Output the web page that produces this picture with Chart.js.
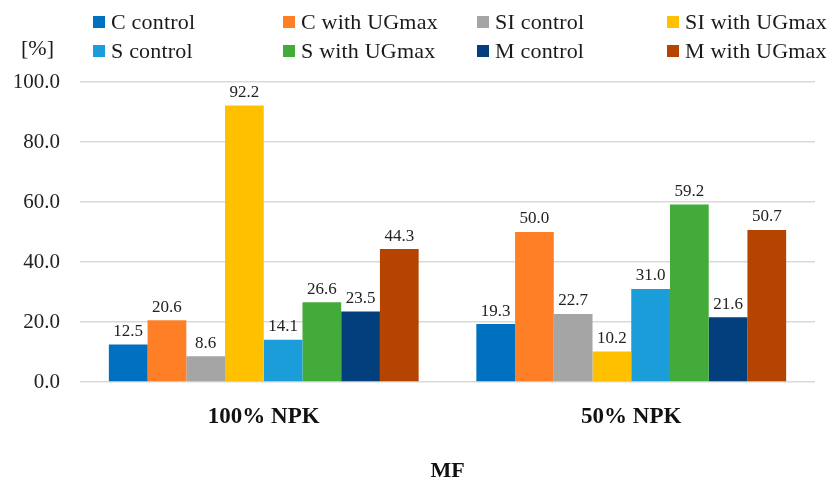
<!DOCTYPE html>
<html>
<head>
<meta charset="utf-8">
<script src="https://cdn.jsdelivr.net/npm/chart.js@4"></script>
<style>
  html, body { margin: 0; padding: 0; background: #fff; }
  #wrap { position: relative; width: 830px; height: 483px; }
  #chart { position: absolute; left: 0; top: 0; }
  .unit { position: absolute; left: 21px; top: 35px; font: 22px "Liberation Serif", serif; color: #1a1a1a; }
  .legend { position: absolute; left: 93px; top: 9px; width: 740px; display: grid;
            grid-template-columns: 190px 194px 190px 160px; row-gap: 3px; }
  .item { display: flex; align-items: center; font: 22px "Liberation Serif", serif; color: #1a1a1a;
          white-space: nowrap; height: 26px; letter-spacing: 0.2px; }
  .box { width: 12px; height: 12px; margin-right: 6px; flex: none; }
</style>
</head>
<body>
<div id="wrap">
  <canvas id="chart" width="830" height="483"></canvas>
  <div class="unit">[%]</div>
  <div class="legend" id="legend"></div>
</div>
<script>
// Fertilisation levels on the x axis
const categories = ['100% NPK', '50% NPK'];

// Series, in legend order
const seriesNames = [
  'C control', 'C with UGmax', 'SI control', 'SI with UGmax',
  'S control', 'S with UGmax', 'M control', 'M with UGmax'
];
const cControl   = [12.5, 19.3];
const cUGmax     = [20.6, 50.0];
const siControl  = [8.6, 22.7];
const siUGmax    = [92.2, 10.2];
const sControl   = [14.1, 31.0];
const sUGmax     = [26.6, 59.2];
const mControl   = [23.5, 21.6];
const mUGmax     = [44.3, 50.7];
const seriesValues = [cControl, cUGmax, siControl, siUGmax, sControl, sUGmax, mControl, mUGmax];
const seriesColors = ['#0070C0', '#FF7F27', '#A5A5A5', '#FFC000', '#1A9DD9', '#43AB3A', '#023F7C', '#B54400'];

// Y axis ticks
const yTicks = [0, 20, 40, 60, 80, 100];

const serif = '"Liberation Serif", "Times New Roman", serif';

// Value labels above each bar
const valueLabels = {
  id: 'valueLabels',
  afterDatasetsDraw(chart) {
    const ctx = chart.ctx;
    ctx.save();
    ctx.font = '17px ' + serif;
    ctx.fillStyle = '#222';
    ctx.textAlign = 'center';
    ctx.textBaseline = 'middle';
    chart.data.datasets.forEach((ds, i) => {
      chart.getDatasetMeta(i).data.forEach((bar, j) => {
        ctx.fillText(ds.data[j].toFixed(1), bar.x, bar.y - 13);
      });
    });
    ctx.restore();
  }
};

const chart = new Chart(document.getElementById('chart'), {
  type: 'bar',
  data: {
    labels: categories,
    datasets: seriesNames.map((name, i) => ({
      label: name,
      data: seriesValues[i],
      backgroundColor: seriesColors[i],
      borderWidth: 0,
      categoryPercentage: 0.843,
      barPercentage: 1.0
    }))
  },
  options: {
    responsive: false,
    animation: false,
    layout: { padding: { left: 0, right: 15, top: 82, bottom: 0 } },
    plugins: { legend: { display: false }, tooltip: { enabled: false } },
    scales: {
      x: {
        grid: { display: false },
        border: { display: false },
        ticks: { color: '#111', font: { family: serif, size: 23, weight: 'bold' }, padding: 13 },
        title: { display: true, text: 'MF', color: '#111',
                 font: { family: serif, size: 22, weight: 'bold', lineHeight: 1 },
                 padding: { top: 0, bottom: 1 } },
        afterFit(scale) { scale.height = 101; }
      },
      y: {
        min: 0, max: 100,
        afterBuildTicks(scale) { scale.ticks = yTicks.map(v => ({ value: v })); },
        grid: { color: '#D9D9D9', lineWidth: 1.5, drawTicks: false },
        border: { display: false },
        ticks: { color: '#222', font: { family: serif, size: 21 }, padding: 20,
                 callback: v => Number(v).toFixed(1) },
        afterFit(scale) { scale.width = 80; }
      }
    }
  },
  plugins: [valueLabels]
});

// Legend in a 4-column grid
const legend = document.getElementById('legend');
seriesNames.forEach((name, i) => {
  const item = document.createElement('div');
  item.className = 'item';
  const box = document.createElement('span');
  box.className = 'box';
  box.style.background = seriesColors[i];
  item.appendChild(box);
  item.appendChild(document.createTextNode(name));
  legend.appendChild(item);
});
</script>
</body>
</html>
